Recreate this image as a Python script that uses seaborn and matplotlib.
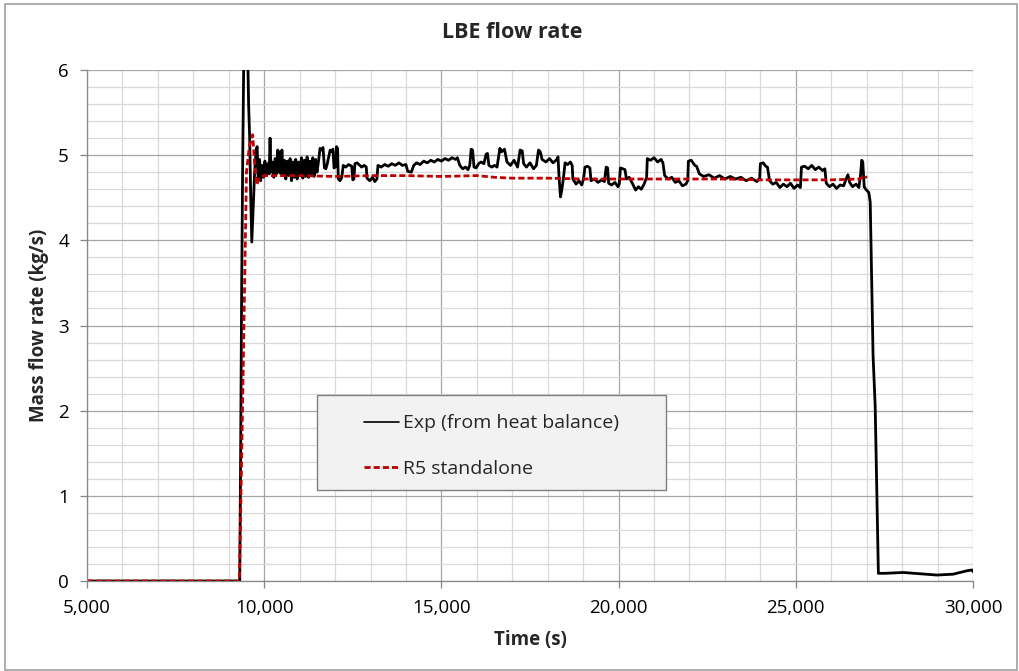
import pandas as pd
import matplotlib
matplotlib.use("Agg")
import matplotlib.pyplot as plt
import matplotlib.ticker as mticker
import matplotlib.patches as mpatches
import seaborn as sns

exp_time = [
    5000, 9310, 9335, 9365, 9395, 9420, 9450, 9490, 9530, 9560, 9590, 9620, 9650, 9690, 9730, 9770, 9800,
    9830, 9870, 9900, 9940, 9980, 10020, 10060, 10100, 10140, 10165, 10190, 10230, 10270, 10310, 10350,
    10380, 10410, 10440, 10470, 10500, 10530, 10570, 10610, 10650, 10690, 10730, 10770, 10810, 10850,
    10890, 10930, 10970, 11010, 11050, 11090, 11130, 11170, 11210, 11250, 11290, 11330, 11370, 11410,
    11450, 11490, 11530,
    11575, 11620, 11660, 11700, 11740, 11780, 11860, 11900, 11940, 11970, 12010, 12040, 12070, 12090,
    12140, 12190, 12230, 12300, 12380, 12470, 12500, 12530, 12560, 12620, 12700, 12750, 12820, 12880,
    12900, 12980, 13060, 13120, 13180,
    13210, 13300, 13400, 13500, 13600, 13700, 13800, 13900, 14000, 14050, 14150, 14220, 14300, 14400,
    14500, 14600, 14700, 14800, 14900, 15000, 15100, 15200, 15300, 15400, 15450, 15520, 15600, 15680,
    15750, 15800, 15840, 15880, 15920, 15980, 16050, 16120, 16200, 16260, 16300, 16340, 16420, 16500,
    16570, 16610,
    16650, 16700, 16780, 16850, 16950, 17050, 17150, 17220, 17280, 17320, 17400, 17500, 17600, 17680,
    17740, 17790, 17840, 17950, 18050, 18150, 18260, 18290, 18320, 18360, 18400, 18440, 18490, 18560,
    18640, 18690, 18710, 18800, 18880, 18960, 19010, 19050, 19120, 19190, 19220, 19320, 19420, 19520,
    19600, 19650, 19690, 19720, 19800, 19900, 19980, 20020, 20050, 20120, 20180, 20220, 20300, 20400,
    20480, 20560, 20640, 20720, 20790, 20810, 20900, 21000, 21100, 21200, 21250, 21300, 21400, 21500,
    21600, 21700, 21800, 21900, 21950, 21970, 22050, 22150, 22200, 22280, 22400, 22550, 22700, 22850,
    23000, 23150, 23300, 23450, 23600, 23750, 23900, 23980, 24000, 24080, 24150, 24200, 24260, 24350,
    24450, 24550, 24650, 24750, 24850, 24950, 25050, 25130, 25160, 25250, 25350, 25450, 25550, 25650,
    25750, 25820, 25860, 25950, 26050, 26150, 26250, 26350, 26420, 26470, 26520, 26600, 26700, 26780,
    26830, 26860, 26890, 26930, 26970, 27020, 27060,
    27100, 27180, 27240, 27330, 27500, 28030, 28500, 28980, 29440, 29830, 29970, 30000,
]
exp_flow = [
    0, 0, 1.5, 3.5, 5.0, 6.0, 6.8, 6.9, 6.3, 5.6, 5.2, 4.5, 3.98, 4.4, 4.8, 5.05, 5.1,
    4.72, 4.95, 4.70, 4.88, 4.74, 4.93, 4.76, 4.90, 4.78, 5.20, 4.80, 4.92, 4.74, 4.96, 4.78,
    5.06, 4.80, 5.04, 4.78, 5.06, 4.76, 4.94, 4.72, 4.93, 4.76, 4.96, 4.70, 4.92, 4.74,
    4.95, 4.72, 4.92, 4.76, 4.97, 4.73, 4.94, 4.75, 4.98, 4.74, 4.93, 4.78, 4.97, 4.75,
    4.95, 4.80, 4.92,
    5.08, 5.06, 5.09, 4.85, 4.84, 4.90, 5.06, 5.04, 5.07, 4.85, 4.86, 5.10, 5.08, 4.72,
    4.70, 4.74, 4.88, 4.86, 4.89, 4.87, 4.71, 4.72, 4.90, 4.91, 4.88, 4.86, 4.88, 4.86,
    4.73, 4.70, 4.74, 4.69, 4.72,
    4.88, 4.86, 4.89, 4.87, 4.90, 4.88, 4.91, 4.88, 4.89, 4.81, 4.80, 4.88, 4.91, 4.89,
    4.93, 4.91, 4.94, 4.92, 4.95, 4.93, 4.96, 4.94, 4.97, 4.95, 4.97, 4.88, 4.84, 4.86,
    4.83, 4.88, 5.07, 5.06, 4.86, 4.85, 4.90, 4.92, 4.90, 5.01, 5.02, 4.88, 4.86, 4.88,
    4.86, 4.97,
    5.08, 5.04, 5.07, 4.92, 4.88, 4.94, 4.86, 5.06, 5.05, 4.90, 4.86, 4.91, 4.84, 4.88,
    5.06, 5.04, 4.95, 4.92, 4.96, 4.91, 4.95, 4.98, 4.74, 4.51, 4.60, 4.72, 4.91, 4.89,
    4.92, 4.88, 4.72, 4.66, 4.70, 4.65, 4.72, 4.86, 4.87, 4.85, 4.70, 4.72, 4.68, 4.71,
    4.69, 4.86, 4.85, 4.67, 4.65, 4.68, 4.63, 4.66, 4.85, 4.84, 4.83, 4.72, 4.74, 4.66,
    4.59, 4.63, 4.60, 4.66, 4.74, 4.96, 4.94, 4.97, 4.92, 4.95, 4.91, 4.76, 4.72, 4.74,
    4.68, 4.70, 4.64, 4.66, 4.70, 4.93, 4.94, 4.88, 4.87, 4.78, 4.75, 4.77, 4.73, 4.76,
    4.72, 4.75, 4.72, 4.74, 4.70, 4.73, 4.69, 4.72, 4.90, 4.91, 4.87, 4.86, 4.70, 4.66,
    4.68, 4.62, 4.66, 4.63, 4.67, 4.61, 4.65, 4.62, 4.86, 4.87, 4.84, 4.88, 4.83, 4.86,
    4.82, 4.84, 4.67, 4.63, 4.66, 4.61, 4.65, 4.64, 4.72, 4.77, 4.68, 4.63, 4.66, 4.62,
    4.78, 4.94, 4.92, 4.63, 4.60, 4.58, 4.56,
    4.45, 2.65, 2.05, 0.09, 0.09, 0.10, 0.085, 0.07, 0.08, 0.12, 0.13, 0.11,
]

# RELAP5 standalone
r5_time = [5000, 9300, 9400, 9500, 9580, 9675, 9730, 9790, 9850, 10000, 11000, 12000, 13000, 14000,
           15000, 16000, 16500, 17000, 18000, 19000, 20000, 21000, 22000, 23000, 24000, 25000, 26000,
           26800, 26950, 27000]
r5_flow = [0, 0, 2.3, 4.8, 5.1, 5.24, 4.9, 4.65, 4.72, 4.76, 4.76, 4.75, 4.76, 4.76,
           4.75, 4.76, 4.74, 4.73, 4.73, 4.72, 4.72, 4.72, 4.72, 4.72, 4.71, 4.71, 4.71,
           4.72, 4.76, 4.73]

exp_df = pd.DataFrame({"Time (s)": exp_time, "Mass flow rate (kg/s)": exp_flow})
r5_df = pd.DataFrame({"Time (s)": r5_time, "Mass flow rate (kg/s)": r5_flow})

sns.set_style("white")
plt.rcParams["font.family"] = ["Open Sans", "DejaVu Sans"]

fig = plt.figure(figsize=(10.19, 6.71), dpi=100)
ax = fig.add_axes([87 / 1019, 1 - 581 / 671, 886 / 1019, 511 / 671])

sns.lineplot(data=exp_df, x="Time (s)", y="Mass flow rate (kg/s)", ax=ax, color="black",
             lw=2.0, estimator=None, sort=False, label="Exp (from heat balance)")
sns.lineplot(data=r5_df, x="Time (s)", y="Mass flow rate (kg/s)", ax=ax, color="#c00000",
             lw=2.0, estimator=None, sort=False, linestyle=(0, (2.2, 1.1)), label="R5 standalone")

ax.set_xlim(5000, 30000)
ax.set_ylim(0, 6)
ax.xaxis.set_major_locator(mticker.MultipleLocator(5000))
ax.xaxis.set_minor_locator(mticker.MultipleLocator(1000))
ax.yaxis.set_major_locator(mticker.MultipleLocator(1))
ax.yaxis.set_minor_locator(mticker.MultipleLocator(0.2))
ax.xaxis.set_major_formatter(mticker.FuncFormatter(lambda v, _: f"{v:,.0f}"))

ax.set_axisbelow(True)
ax.grid(which="major", color="#a6a6a6", lw=0.9)
ax.grid(which="minor", color="#d9d9d9", lw=0.9)
ax.tick_params(which="major", direction="out", length=5, width=0.9, color="#868686",
               labelsize=13.5, labelcolor="black", bottom=True, left=True)
ax.tick_params(axis="x", which="major", pad=8)
ax.tick_params(axis="y", which="major", pad=8)
ax.tick_params(which="minor", length=0)
for side in ["top", "right"]:
    ax.spines[side].set_visible(False)
for side in ["left", "bottom"]:
    ax.spines[side].set_color("#868686")
    ax.spines[side].set_linewidth(0.9)

ax.set_xlabel("Time (s)", fontsize=13.5, fontweight="bold")
ax.set_ylabel("Mass flow rate (kg/s)", fontsize=13.5, fontweight="bold")
ax.xaxis.set_label_coords(0.5, (581 - 630) / 511)
ax.yaxis.set_label_coords((49 - 87) / 886, 0.5)

fig.text(512 / 1019, 1 - 32 / 671, "LBE flow rate", ha="center", va="center",
         fontsize=15.5, fontweight="bold")

# legend box
box = mpatches.Rectangle(((317 - 87) / 886, (581 - 490) / 511), 349 / 886, 95 / 511,
                         transform=ax.transAxes, facecolor="#f2f2f2", edgecolor="#7f7f7f",
                         lw=1.0, zorder=4)
ax.add_patch(box)
leg = ax.legend(loc="center", bbox_to_anchor=((491.5 - 87) / 886, (581 - 446) / 511),
                frameon=False, fontsize=14, handlelength=1.8, handletextpad=0.25,
                labelspacing=1.4)
leg.set_zorder(5)
leg.get_lines()[0].set_linewidth(1.2)
for txt in leg.get_texts():
    txt.set_color("#262626")

# outer chart border
fig.patches.append(mpatches.Rectangle((5 / 1019, 1 / 671), 1012 / 1019, 666 / 671,
                                      transform=fig.transFigure, fill=False,
                                      edgecolor="#a0a0a0", lw=1.2))

fig.savefig("out.png", dpi=100)
